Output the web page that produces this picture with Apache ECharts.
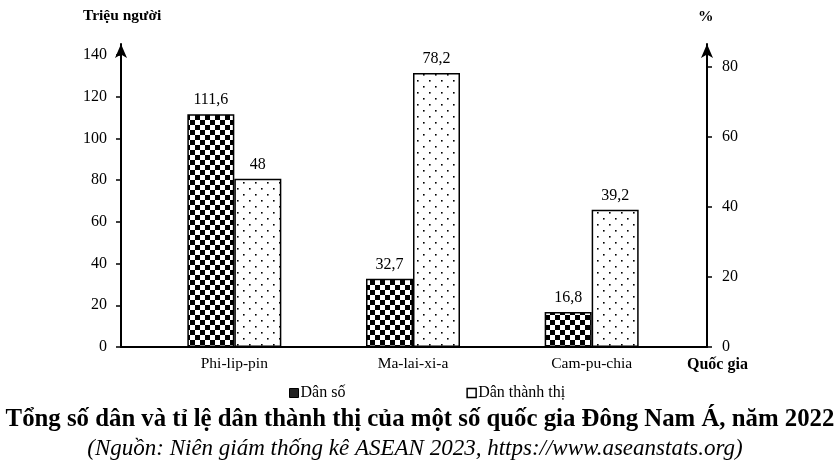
<!DOCTYPE html>
<html><head><meta charset="utf-8">
<script src="https://cdn.jsdelivr.net/npm/echarts@6/dist/echarts.min.js"></script>
<style>html,body{margin:0;padding:0;background:#fff}#c{width:838px;height:476px}</style>
</head><body><div id="c"></div>
<script>
const categories = ['Phi-lip-pin', 'Ma-lai-xi-a', 'Cam-pu-chia'];
const population = [111.6, 32.7, 16.8];
const urbanRate = [48, 78.2, 39.2];
const leftTicks = [0, 20, 40, 60, 80, 100, 120, 140];
const rightTicks = [0, 20, 40, 60, 80];
const seriesNames = ['Dân số', 'Dân thành thị'];

const FONT = "'Liberation Serif', 'Times New Roman', serif";
const LEFT_MAX = 145.3, RIGHT_MAX = 86.5;

function checker() {
  const c = document.createElement('canvas'); c.width = 10; c.height = 10;
  const g = c.getContext('2d');
  g.fillStyle = '#fff'; g.fillRect(0, 0, 10, 10);
  g.fillStyle = '#000'; g.fillRect(0, 0, 5, 5); g.fillRect(5, 5, 5, 5);
  return c;
}
function dots() {
  const c = document.createElement('canvas'); c.width = 12; c.height = 12;
  const g = c.getContext('2d');
  g.fillStyle = '#fff'; g.fillRect(0, 0, 12, 12);
  g.fillStyle = '#000'; g.fillRect(3, 2, 1.6, 1.6); g.fillRect(9, 8, 1.6, 1.6);
  return c;
}

const chart = echarts.init(document.getElementById('c'));
const gridTop = 44, gridBottom = 129;
const label = {
  show: true, position: 'top', distance: 6, color: '#000', fontFamily: FONT, fontSize: 16,
  formatter: p => String(p.value).replace('.', ',')
};
chart.setOption({
  animation: false,
  backgroundColor: '#fff',
  grid: [
    { left: 121, right: 131, top: gridTop, bottom: gridBottom },
    { left: 145, right: 157, top: gridTop, bottom: gridBottom }
  ],
  xAxis: [
    { gridIndex: 0, type: 'value', min: 0, max: 1, axisLine: { show: true, onZero: false, lineStyle: { color: '#000', width: 2 } },
      axisTick: { show: false }, axisLabel: { show: false }, splitLine: { show: false } },
    { gridIndex: 1, type: 'category', data: categories, axisLine: { show: false }, axisTick: { show: false },
      axisLabel: { color: '#000', fontFamily: FONT, fontSize: 15.5, margin: 9 } }
  ],
  yAxis: [
    { gridIndex: 0, type: 'value', position: 'left', min: 0, max: LEFT_MAX,
      axisLine: { show: true, symbol: ['none', 'arrow'], symbolSize: [9, 14], lineStyle: { color: '#000', width: 2 } },
      axisTick: { show: true, length: 5, customValues: leftTicks, lineStyle: { color: '#000', width: 1.5 } },
      axisLabel: { customValues: leftTicks, color: '#000', fontFamily: FONT, fontSize: 16, margin: 14 },
      splitLine: { show: false } },
    { gridIndex: 0, type: 'value', position: 'right', min: 0, max: RIGHT_MAX,
      axisLine: { show: true, symbol: ['none', 'arrow'], symbolSize: [9, 14], lineStyle: { color: '#000', width: 2 } },
      axisTick: { show: true, length: 5, customValues: rightTicks, lineStyle: { color: '#000', width: 1.5 } },
      axisLabel: { customValues: rightTicks, color: '#000', fontFamily: FONT, fontSize: 16, margin: 15 },
      splitLine: { show: false } },
    { gridIndex: 1, type: 'value', min: 0, max: LEFT_MAX, show: false, splitLine: { show: false } },
    { gridIndex: 1, type: 'value', min: 0, max: RIGHT_MAX, show: false, splitLine: { show: false } }
  ],
  legend: {
    left: 284, top: 380, itemWidth: 9, itemHeight: 9, itemGap: 121, icon: 'rect',
    textStyle: { color: '#000', fontFamily: FONT, fontSize: 16, padding: [0, 0, 0, -3] },
    data: [
      { name: seriesNames[0], itemStyle: { color: '#222', borderColor: '#000', borderWidth: 1 } },
      { name: seriesNames[1], itemStyle: { color: '#fff', borderColor: '#000', borderWidth: 1.5 } }
    ]
  },
  series: [
    { name: seriesNames[0], type: 'bar', xAxisIndex: 1, yAxisIndex: 2, data: population,
      barWidth: 47, barGap: '0%',
      itemStyle: { color: { image: checker(), repeat: 'repeat' }, borderColor: '#000', borderWidth: 1.5 },
      label },
    { name: seriesNames[1], type: 'bar', xAxisIndex: 1, yAxisIndex: 3, data: urbanRate,
      barWidth: 47, barGap: '0%',
      itemStyle: { color: { image: dots(), repeat: 'repeat' }, borderColor: '#000', borderWidth: 1.5 },
      label }
  ],
  graphic: [
    { type: 'text', left: 83, top: 8, style: { text: 'Triệu người', font: "bold 15.5px " + FONT, fill: '#000' } },
    { type: 'text', left: 698, top: 9, style: { text: '%', font: "bold 15.5px " + FONT, fill: '#000' } },
    { type: 'text', left: 687, top: 357, style: { text: 'Quốc gia', font: "bold 16px " + FONT, fill: '#000' } },
    { type: 'text', x: 420, y: 420, style: { text: 'Tổng số dân và tỉ lệ dân thành thị của một số quốc gia Đông Nam Á, năm 2022', font: "bold 24.8px " + FONT, fill: '#000', align: 'center', verticalAlign: 'middle' } },
    { type: 'text', x: 415, y: 449, style: { text: '(Nguồn: Niên giám thống kê ASEAN 2023, https://www.aseanstats.org)', font: "italic 23px " + FONT, fill: '#000', align: 'center', verticalAlign: 'middle' } }
  ]
});
</script>
</body></html>
